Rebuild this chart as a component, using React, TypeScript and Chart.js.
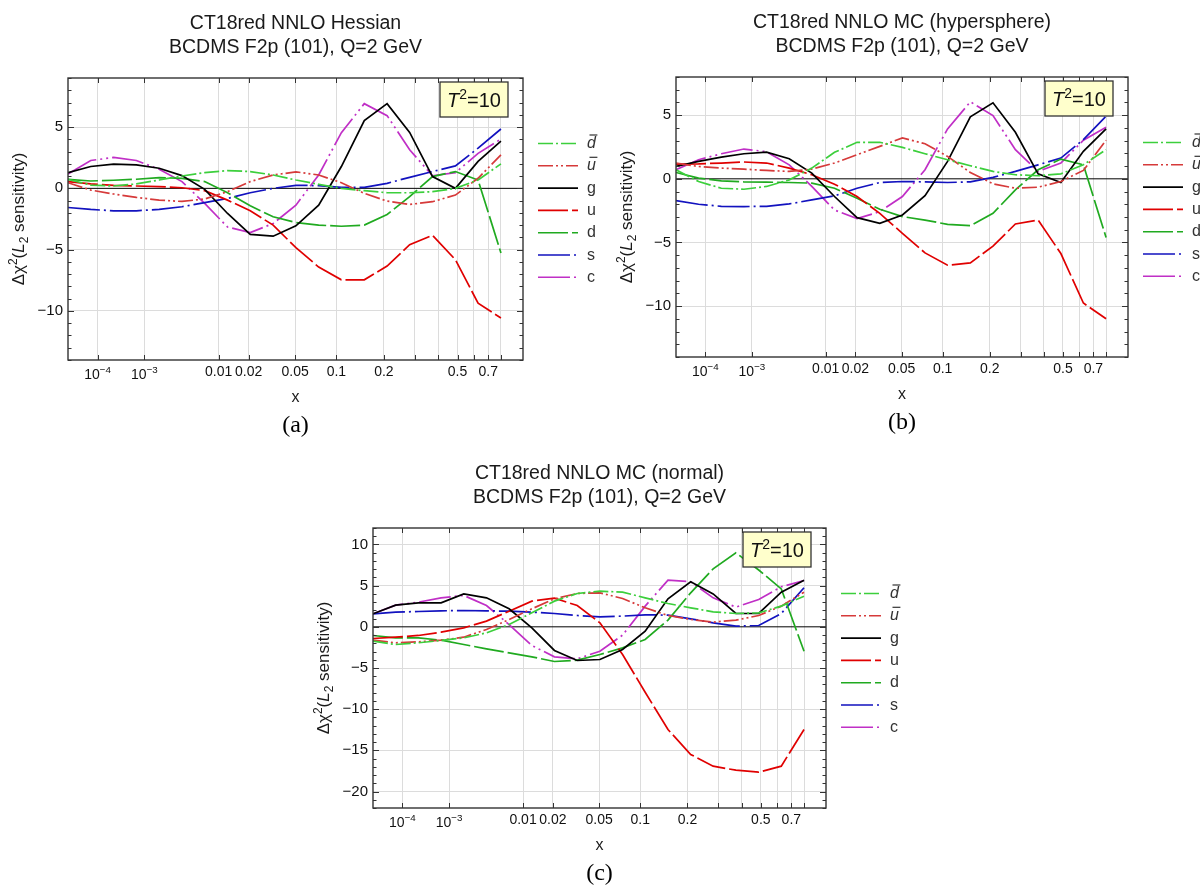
import React, { useEffect, useRef } from 'react';
import { Chart, registerables, LinearScale } from 'chart.js';

Chart.register(...registerables);

// ---------- data ----------
const X_VALUES = [1e-5, 6.4e-5, 2.49e-4, 7.2e-4, 1.73e-3, 3.65e-3, 6.97e-3, 0.0124, 0.0207, 0.0331, 0.0507, 0.0751, 0.108, 0.152, 0.209, 0.281, 0.373, 0.488, 0.628, 0.8];
const X_TICKS = [1e-4, 1e-3, 0.01, 0.02, 0.05, 0.1, 0.2, 0.3, 0.4, 0.5, 0.6, 0.7, 0.8];
const X_TICK_TEXT = ['', '', '0.01', '0.02', '0.05', '0.1', '0.2', '', '', '0.5', '', '0.7', ''];
const X_POW_TICKS = [1e-4, 1e-3];
const X_POW_EXP = ['\u22124', '\u22123'];
const SERIES_LABELS = ['dbar', 'ubar', 'g', 'u', 'd', 's', 'c'];

// panel (a) Hessian
const A_DBAR = [0.74, 0.27, 0.19, 0.36, 0.68, 1.01, 1.28, 1.45, 1.37, 1.09, 0.68, 0.33, 0.0, -0.19, -0.36, -0.36, -0.27, 0.0, 0.68, 2.0];
const A_UBAR = [0.46, -0.14, -0.46, -0.74, -0.96, -1.07, -0.87, -0.27, 0.55, 1.09, 1.34, 1.09, 0.46, -0.41, -1.04, -1.31, -1.09, -0.55, 0.82, 2.73];
const A_G = [1.28, 1.78, 1.97, 1.91, 1.64, 1.04, -0.08, -2.05, -3.75, -3.9, -3.06, -1.37, 1.78, 5.53, 6.91, 4.56, 0.96, 0.0, 2.2, 3.86];
const A_U = [0.55, 0.36, 0.25, 0.19, 0.14, 0.05, -0.19, -0.96, -1.83, -3.0, -4.84, -6.42, -7.46, -7.46, -6.34, -4.59, -3.83, -5.82, -9.37, -10.57];
const A_D = [0.74, 0.6, 0.66, 0.74, 0.87, 0.82, 0.55, -0.36, -1.42, -2.32, -2.79, -3.0, -3.09, -3.0, -2.13, -0.68, 0.96, 1.37, 0.68, -5.27];
const A_S = [-1.56, -1.72, -1.83, -1.83, -1.72, -1.5, -1.17, -0.82, -0.36, 0.0, 0.25, 0.22, 0.08, 0.08, 0.41, 0.9, 1.37, 1.83, 3.28, 4.84];
const A_C = [1.17, 2.27, 2.52, 2.27, 1.56, 0.55, -1.23, -3.16, -3.6, -2.87, -1.37, 1.09, 4.54, 6.91, 5.93, 3.15, 1.03, 1.28, 2.85, 4.02];

// panel (b) MC hypersphere
const B_DBAR = [0.71, -0.21, -0.74, -0.82, -0.6, -0.08, 0.84, 2.08, 2.87, 2.87, 2.47, 1.97, 1.5, 1.03, 0.58, 0.32, 0.24, 0.39, 1.1, 2.29];
const B_UBAR = [1.24, 0.97, 0.84, 0.76, 0.66, 0.58, 0.76, 1.24, 1.89, 2.55, 3.21, 2.76, 1.76, 0.5, -0.39, -0.74, -0.66, -0.21, 0.66, 3.03];
const B_G = [0.97, 1.37, 1.71, 1.97, 2.1, 1.58, 0.45, -1.39, -3.05, -3.5, -2.84, -1.32, 1.37, 4.87, 5.97, 3.66, 0.39, -0.29, 2.16, 3.92];
const B_U = [1.16, 1.18, 1.24, 1.32, 1.24, 0.84, 0.32, -0.42, -1.39, -2.71, -4.29, -5.82, -6.79, -6.61, -5.29, -3.55, -3.24, -5.87, -9.76, -11.0];
const B_D = [0.5, 0.05, -0.16, -0.24, -0.26, -0.29, -0.34, -0.74, -1.53, -2.39, -2.97, -3.24, -3.58, -3.68, -2.71, -0.87, 0.71, 1.55, 1.1, -4.61];
const B_S = [-1.71, -2.0, -2.16, -2.18, -2.16, -1.97, -1.66, -1.34, -0.74, -0.29, -0.21, -0.24, -0.29, -0.24, 0.11, 0.58, 1.1, 1.63, 3.08, 4.92];
const B_C = [0.71, 1.5, 1.97, 2.34, 2.13, 1.1, -0.6, -2.45, -3.13, -2.58, -1.39, 0.71, 3.92, 6.05, 4.97, 2.29, 0.58, 1.24, 3.03, 4.05];

// panel (c) MC normal
const C_DBAR = [-1.74, -2.15, -1.94, -1.66, -1.34, -0.73, 0.28, 1.7, 3.12, 4.05, 4.33, 4.21, 3.52, 2.83, 2.31, 1.82, 1.62, 1.7, 2.51, 3.72];
const C_UBAR = [-1.62, -1.94, -1.82, -1.62, -1.26, -0.32, 0.89, 2.19, 3.4, 4.05, 4.13, 3.44, 2.31, 1.38, 0.89, 0.57, 0.81, 1.38, 2.51, 4.21];
const C_G = [1.58, 2.63, 2.91, 2.91, 4.0, 3.52, 2.19, -0.12, -2.87, -4.09, -3.97, -2.75, -0.53, 3.4, 5.47, 4.0, 1.62, 1.62, 4.21, 5.67];
const C_U = [-1.42, -1.26, -1.05, -0.65, -0.12, 0.69, 1.9, 3.12, 3.48, 2.59, 0.49, -3.36, -7.94, -12.47, -15.5, -16.92, -17.41, -17.65, -16.92, -12.47];
const C_D = [-1.05, -1.34, -1.34, -1.62, -2.15, -2.67, -3.16, -3.64, -4.21, -4.05, -3.36, -2.55, -1.54, 0.81, 4.13, 7.04, 8.99, 6.9, 4.6, -2.96];
const C_S = [1.58, 1.78, 1.86, 1.94, 1.98, 1.94, 1.9, 1.78, 1.62, 1.38, 1.21, 1.3, 1.46, 1.42, 0.97, 0.49, 0.08, 0.16, 1.62, 4.74];
const C_C = [1.58, 2.63, 3.0, 3.52, 3.81, 2.59, 0.28, -2.27, -3.64, -3.89, -2.96, -1.01, 2.51, 5.67, 5.47, 3.52, 2.39, 3.32, 4.86, 5.63];

// ---------- styles ----------
const FONT = '"Liberation Sans", Arial, Helvetica, sans-serif';
const SERIF = '"Liberation Serif", "Times New Roman", serif';
const TICK_SIZE = 14;
const STYLE: Record<string, { color: string; dash: number[] }> = {
  dbar: { color: '#3ccf3c', dash: [15, 3, 2, 3] },
  ubar: { color: '#d63a3a', dash: [15, 3, 2, 3, 2, 3] },
  g: { color: '#000000', dash: [] },
  u: { color: '#e00000', dash: [30, 4] },
  d: { color: '#20aa20', dash: [30, 4] },
  s: { color: '#1212bf', dash: [32, 4, 2, 4] },
  c: { color: '#c02fc6', dash: [32, 4, 2, 4, 2, 4] },
};

type Panel = {
  key: string;
  title: string[];
  label: string;
  canvas: { left: number; top: number; w: number; h: number };
  area: { l: number; t: number; r: number; b: number };
  yMin: number;
  yMax: number;
  yTicks: number[];
  series: number[][];
};

const PANELS: Panel[] = [
  {
    key: 'a',
    title: ['CT18red NNLO Hessian', 'BCDMS F2p (101), Q=2 GeV'],
    label: '(a)',
    canvas: { left: 0, top: 0, w: 600, h: 440 },
    area: { l: 68, t: 78, r: 523, b: 360 },
    yMin: -14, yMax: 9, yTicks: [-10, -5, 0, 5],
    series: [A_DBAR, A_UBAR, A_G, A_U, A_D, A_S, A_C],
  },
  {
    key: 'b',
    title: ['CT18red NNLO MC (hypersphere)', 'BCDMS F2p (101), Q=2 GeV'],
    label: '(b)',
    canvas: { left: 600, top: 0, w: 600, h: 440 },
    area: { l: 76, t: 77, r: 528, b: 357 },
    yMin: -14, yMax: 8, yTicks: [-10, -5, 0, 5],
    series: [B_DBAR, B_UBAR, B_G, B_U, B_D, B_S, B_C],
  },
  {
    key: 'c',
    title: ['CT18red NNLO MC (normal)', 'BCDMS F2p (101), Q=2 GeV'],
    label: '(c)',
    canvas: { left: 290, top: 440, w: 620, h: 448 },
    area: { l: 83, t: 88, r: 536, b: 368 },
    yMin: -22, yMax: 12, yTicks: [-20, -15, -10, -5, 0, 5, 10],
    series: [C_DBAR, C_UBAR, C_G, C_U, C_D, C_S, C_C],
  },
];

// ---------- custom x^0.2 scale ----------
const POWER = 0.2;
class PowerScale extends LinearScale {
  static id = 'power';
  static defaults = LinearScale.defaults;
  buildTicks() {
    return [];
  }
  getPixelForValue(value: any) {
    if (value === null || value === undefined || isNaN(value)) return NaN;
    const a = Math.pow((this as any).min, POWER);
    const b = Math.pow((this as any).max, POWER);
    return (this as any).getPixelForDecimal((Math.pow(value, POWER) - a) / (b - a));
  }
  getValueForPixel(pixel: number) {
    const a = Math.pow((this as any).min, POWER);
    const b = Math.pow((this as any).max, POWER);
    const d = (this as any).getDecimalForPixel(pixel);
    return Math.pow(a + d * (b - a), 1 / POWER);
  }
}
Chart.register(PowerScale as any);

// ---------- rich text ----------
type Seg = { t: string; it?: boolean; sup?: boolean; sub?: boolean };
function richWidth(ctx: CanvasRenderingContext2D, segs: Seg[], size: number, family: string) {
  let w = 0;
  for (const s of segs) {
    const fs = s.sup || s.sub ? size * 0.7 : size;
    ctx.font = `${s.it ? 'italic ' : ''}${fs}px ${family}`;
    w += ctx.measureText(s.t).width;
  }
  return w;
}
function drawRich(ctx: CanvasRenderingContext2D, segs: Seg[], x: number, y: number, size: number, family: string, align: 'left' | 'center') {
  const total = richWidth(ctx, segs, size, family);
  let cx = align === 'center' ? x - total / 2 : x;
  ctx.textAlign = 'left';
  ctx.textBaseline = 'alphabetic';
  for (const s of segs) {
    const fs = s.sup || s.sub ? size * 0.7 : size;
    ctx.font = `${s.it ? 'italic ' : ''}${fs}px ${family}`;
    const dy = s.sup ? -size * 0.4 : s.sub ? size * 0.22 : 0;
    ctx.fillText(s.t, cx, y + dy);
    cx += ctx.measureText(s.t).width;
  }
}

function makePlugin(p: Panel) {
  return {
    id: 'deco_' + p.key,
    beforeDatasetsDraw(chart: any) {
      const { ctx, chartArea: a, scales } = chart;
      const y0 = scales.y.getPixelForValue(0);
      ctx.save();
      ctx.strokeStyle = '#000';
      ctx.lineWidth = 1;
      ctx.beginPath();
      ctx.moveTo(a.left, y0);
      ctx.lineTo(a.right, y0);
      ctx.stroke();
      ctx.restore();
    },
    afterDraw(chart: any) {
      const { ctx, chartArea: a, scales } = chart;
      const xs = scales.x;
      const ys = scales.y;
      ctx.save();
      // ticks (inward, all four sides)
      ctx.strokeStyle = '#333';
      ctx.lineWidth = 1;
      ctx.beginPath();
      for (const v of X_TICKS) {
        const px = Math.round(xs.getPixelForValue(v)) + 0.5;
        ctx.moveTo(px, a.bottom);
        ctx.lineTo(px, a.bottom - 5);
        ctx.moveTo(px, a.top);
        ctx.lineTo(px, a.top + 5);
      }
      for (let v = Math.ceil(p.yMin); v <= Math.floor(p.yMax); v++) {
        const py = Math.round(ys.getPixelForValue(v)) + 0.5;
        const len = v % 5 === 0 ? 6 : 3.5;
        ctx.moveTo(a.left, py);
        ctx.lineTo(a.left + len, py);
        ctx.moveTo(a.right, py);
        ctx.lineTo(a.right - len, py);
      }
      ctx.stroke();
      // frame
      ctx.strokeStyle = '#333';
      ctx.lineWidth = 1.4;
      ctx.strokeRect(a.left, a.top, a.right - a.left, a.bottom - a.top);

      // power-of-ten tick labels
      ctx.fillStyle = '#111';
      X_POW_TICKS.forEach((v, i) => {
        const px = xs.getPixelForValue(v);
        drawRich(ctx, [{ t: '10' }, { t: X_POW_EXP[i], sup: true }], px, a.bottom + 19, TICK_SIZE, FONT, 'center');
      });

      // T^2 box
      const bw = 68, bh = 35;
      const bx = a.right - 15 - bw, by = a.top + 4;
      ctx.fillStyle = '#ffffcc';
      ctx.fillRect(bx, by, bw, bh);
      ctx.strokeStyle = '#333';
      ctx.lineWidth = 1.3;
      ctx.strokeRect(bx, by, bw, bh);
      ctx.fillStyle = '#111';
      drawRich(ctx, [{ t: 'T', it: true }, { t: '2', sup: true }, { t: '=10' }], bx + bw / 2, by + bh / 2 + 7, 20, FONT, 'center');

      // legend
      const lx0 = a.right + 15, lx1 = a.right + 55, tx = a.right + 64;
      SERIES_LABELS.forEach((name, i) => {
        const st = STYLE[name];
        const ly = a.top + 65.5 + 22.3 * i;
        ctx.strokeStyle = st.color;
        ctx.lineWidth = 1.6;
        ctx.setLineDash(st.dash);
        ctx.beginPath();
        ctx.moveTo(lx0, ly);
        ctx.lineTo(lx1, ly);
        ctx.stroke();
        ctx.setLineDash([]);
        ctx.fillStyle = '#333';
        ctx.textAlign = 'left';
        ctx.textBaseline = 'alphabetic';
        const base = ly + 4.5;
        if (name === 'dbar' || name === 'ubar') {
          const ch = name === 'dbar' ? 'd' : 'u';
          ctx.font = `italic 16px ${FONT}`;
          ctx.fillText(ch, tx, base);
          const w = ctx.measureText(ch).width;
          ctx.strokeStyle = '#333';
          ctx.lineWidth = 1.2;
          ctx.beginPath();
          ctx.moveTo(tx + 2.5, base - 13);
          ctx.lineTo(tx + w + 1.5, base - 13);
          ctx.stroke();
        } else {
          ctx.font = `16px ${FONT}`;
          ctx.fillText(name, tx, base);
        }
      });

      // titles
      const cx = (a.left + a.right) / 2;
      ctx.fillStyle = '#1a1a1a';
      ctx.textAlign = 'center';
      ctx.textBaseline = 'alphabetic';
      ctx.font = `19.5px ${FONT}`;
      ctx.fillText(p.title[0], cx, a.top - 49.5);
      ctx.fillText(p.title[1], cx, a.top - 25.5);

      // x axis title
      ctx.font = `16px ${FONT}`;
      ctx.fillText('x', cx, a.bottom + 41.5);

      // subfigure label
      ctx.font = `24px ${SERIF}`;
      ctx.fillStyle = '#000';
      ctx.fillText(p.label, cx, a.bottom + 72);

      // y axis title (rotated)
      ctx.save();
      ctx.translate(a.left - 44, (a.top + a.bottom) / 2);
      ctx.rotate(-Math.PI / 2);
      ctx.fillStyle = '#1a1a1a';
      drawRich(ctx, [{ t: '\u0394\u03C7' }, { t: '2', sup: true }, { t: '(' }, { t: 'L', it: true }, { t: '2', sub: true }, { t: ' sensitivity)' }], 0, 0, 17, FONT, 'center');
      ctx.restore();

      ctx.restore();
    },
  };
}

function makeConfig(p: Panel): any {
  const XH = 30;
  const datasets = SERIES_LABELS.map((name, k) => ({
    label: name,
    data: X_VALUES.map((x, i) => ({ x, y: p.series[k][i] })),
    borderColor: STYLE[name].color,
    backgroundColor: STYLE[name].color,
    borderDash: STYLE[name].dash,
    borderWidth: 1.7,
    pointRadius: 0,
    tension: 0,
    fill: false,
  }));
  return {
    type: 'line',
    data: { datasets },
    options: {
      animation: false,
      responsive: false,
      maintainAspectRatio: false,
      devicePixelRatio: 1,
      events: [],
      layout: {
        padding: { left: 0, top: p.area.t, right: p.canvas.w - p.area.r, bottom: p.canvas.h - p.area.b - XH },
      },
      plugins: { legend: { display: false }, tooltip: { enabled: false }, title: { display: false } },
      scales: {
        x: {
          type: 'power',
          min: 1e-5,
          max: 1,
          afterFit: (s: any) => { s.height = XH; },
          afterBuildTicks: (s: any) => { s.ticks = X_TICKS.map((v) => ({ value: v })); },
          grid: { color: '#dcdcdc', lineWidth: 1, drawTicks: false },
          border: { display: false },
          ticks: {
            autoSkip: false,
            maxRotation: 0,
            minRotation: 0,
            padding: 4,
            color: '#111',
            font: { family: FONT, size: TICK_SIZE },
            callback: (_v: any, i: number) => X_TICK_TEXT[i],
          },
        },
        y: {
          type: 'linear',
          min: p.yMin,
          max: p.yMax,
          afterFit: (s: any) => { s.width = p.area.l; },
          afterBuildTicks: (s: any) => { s.ticks = p.yTicks.map((v) => ({ value: v })); },
          grid: {
            color: (c: any) => (c.tick && c.tick.value === 0 ? 'rgba(0,0,0,0)' : '#dcdcdc'),
            lineWidth: 1,
            drawTicks: false,
          },
          border: { display: false },
          ticks: {
            padding: 5,
            color: '#111',
            font: { family: FONT, size: 15 },
            callback: (v: number) => (v < 0 ? '\u2212' + Math.abs(v) : String(v)),
          },
        },
      },
    },
    plugins: [makePlugin(p)],
  };
}

function PanelChart({ p }: { p: Panel }) {
  const ref = useRef<HTMLCanvasElement>(null);
  useEffect(() => {
    if (!ref.current) return;
    const chart = new Chart(ref.current, makeConfig(p));
    return () => chart.destroy();
  }, [p]);
  return (
    <canvas
      ref={ref}
      width={p.canvas.w}
      height={p.canvas.h}
      style={{ position: 'absolute', left: p.canvas.left, top: p.canvas.top, width: p.canvas.w, height: p.canvas.h }}
    />
  );
}

export default function App() {
  return (
    <div style={{ position: 'absolute', left: 0, top: 0, width: 1200, height: 888, background: '#fff', overflow: 'hidden' }}>
      {PANELS.map((p) => (
        <PanelChart key={p.key} p={p} />
      ))}
    </div>
  );
}
